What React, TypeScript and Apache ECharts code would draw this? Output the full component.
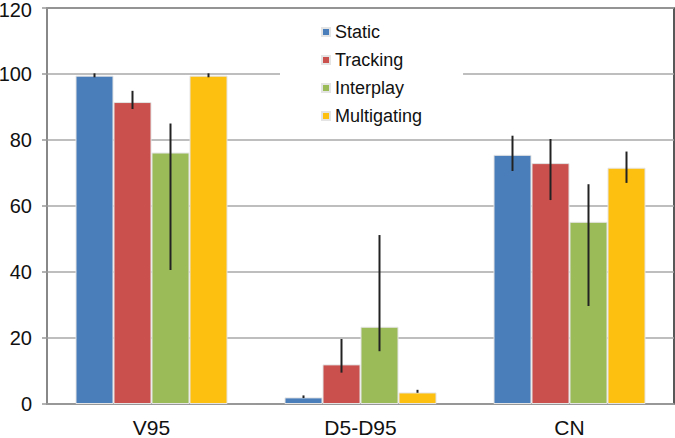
import React, { useEffect, useRef } from "react";
import * as echarts from "echarts";

const categories = ["V95", "D5-D95", "CN"];
const seriesNames = ["Static", "Tracking", "Interplay", "Multigating"];
const colors = ["#4a7ebb", "#c9504d", "#9bbb59", "#fec010"];
const staticVals = [99.5, 2.0, 75.5];
const trackingVals = [91.5, 12.0, 73.0];
const interplayVals = [76.2, 23.4, 55.2];
const multigatingVals = [99.5, 3.5, 71.6];
const staticErr = [[99.0, 100.2], [1.8, 2.6], [70.6, 81.3]];
const trackingErr = [[89.4, 94.9], [9.5, 19.7], [61.8, 80.3]];
const interplayErr = [[40.6, 85.0], [16.0, 51.2], [29.7, 66.6]];
const multigatingErr = [[99.0, 100.2], [3.4, 4.3], [67.0, 76.5]];
const yTicks = [0, 20, 40, 60, 80, 100, 120];

const BAR_W = 38;

export default function App() {
  const ref = useRef<HTMLDivElement>(null);
  useEffect(() => {
    if (!ref.current) return;
    const chart = echarts.init(ref.current, null, { renderer: "svg" });
    const values = [staticVals, trackingVals, interplayVals, multigatingVals];
    const errs = [staticErr, trackingErr, interplayErr, multigatingErr];
    const errData: number[][] = [];
    errs.forEach((e, s) => e.forEach((lh, c) => errData.push([c, lh[0], lh[1], s])));
    const font = "Liberation Sans, Arial, sans-serif";
    const topTick = yTicks[yTicks.length - 1];
    chart.setOption({
      animation: false,
      backgroundColor: "#ffffff",
      grid: {
        left: 47,
        right: 1,
        top: 8,
        bottom: 34,
        containLabel: false,
        outerBoundsMode: "none",
        show: true,
        borderColor: "#222",
        borderWidth: 1.5,
        backgroundColor: "transparent",
      },
      legend: {
        data: seriesNames,
        orient: "vertical",
        left: 280,
        top: 18,
        padding: [5, 41, 5, 41],
        backgroundColor: "#ffffff",
        itemWidth: 8,
        itemHeight: 8,
        itemGap: 10,
        icon: "rect",
        textStyle: { fontSize: 18, fontFamily: font, color: "#111" },
        z: 10,
      },
      xAxis: {
        type: "category",
        data: categories,
        axisLine: { lineStyle: { color: "#999", width: 1.5 } },
        axisTick: { length: 6, lineStyle: { color: "#999", width: 1.5 } },
        axisLabel: { fontSize: 21, fontFamily: font, color: "#111", margin: 13 },
      },
      yAxis: {
        type: "value",
        min: 0,
        max: 120,
        interval: 20,
        axisLine: { show: true, lineStyle: { color: "#999", width: 1.5 } },
        axisTick: { show: true, length: 5, lineStyle: { color: "#999", width: 1.5 } },
        axisLabel: {
          fontSize: 20,
          fontFamily: font,
          color: "#111",
          margin: 15,
          formatter: (v: number) =>
            yTicks.includes(v) ? (v === topTick ? "{t|" + v + "}" : String(v)) : "",
          rich: {
            t: { fontSize: 20, fontFamily: font, color: "#111", lineHeight: 20, padding: [4, 0, 0, 0] },
          },
        },
        splitLine: { lineStyle: { color: "#a8a8a8", width: 1.5 } },
      },
      series: [
        ...seriesNames.map((name, i) => ({
          name,
          type: "bar",
          data: values[i],
          barWidth: BAR_W,
          barGap: "0%",
          itemStyle: { color: colors[i], borderColor: "#e4e4e4", borderWidth: 1 },
          z: 3,
        })),
        {
          type: "custom",
          name: "err",
          data: errData,
          encode: { x: 0, y: [1, 2] },
          z: 5,
          renderItem: (params: any, api: any) => {
            const c = api.value(0);
            const s = api.value(3);
            const p1 = api.coord([c, api.value(1)]);
            const p2 = api.coord([c, api.value(2)]);
            const x = p1[0] + (s - 1.5) * BAR_W;
            return {
              type: "line",
              shape: { x1: x, y1: p1[1], x2: x, y2: p2[1] },
              style: { stroke: "#222", lineWidth: 2 },
            };
          },
        },
      ],
    });
    return () => chart.dispose();
  }, []);
  return <div ref={ref} style={{ width: 675, height: 438, position: "absolute", left: 0, top: 0 }} />;
}
